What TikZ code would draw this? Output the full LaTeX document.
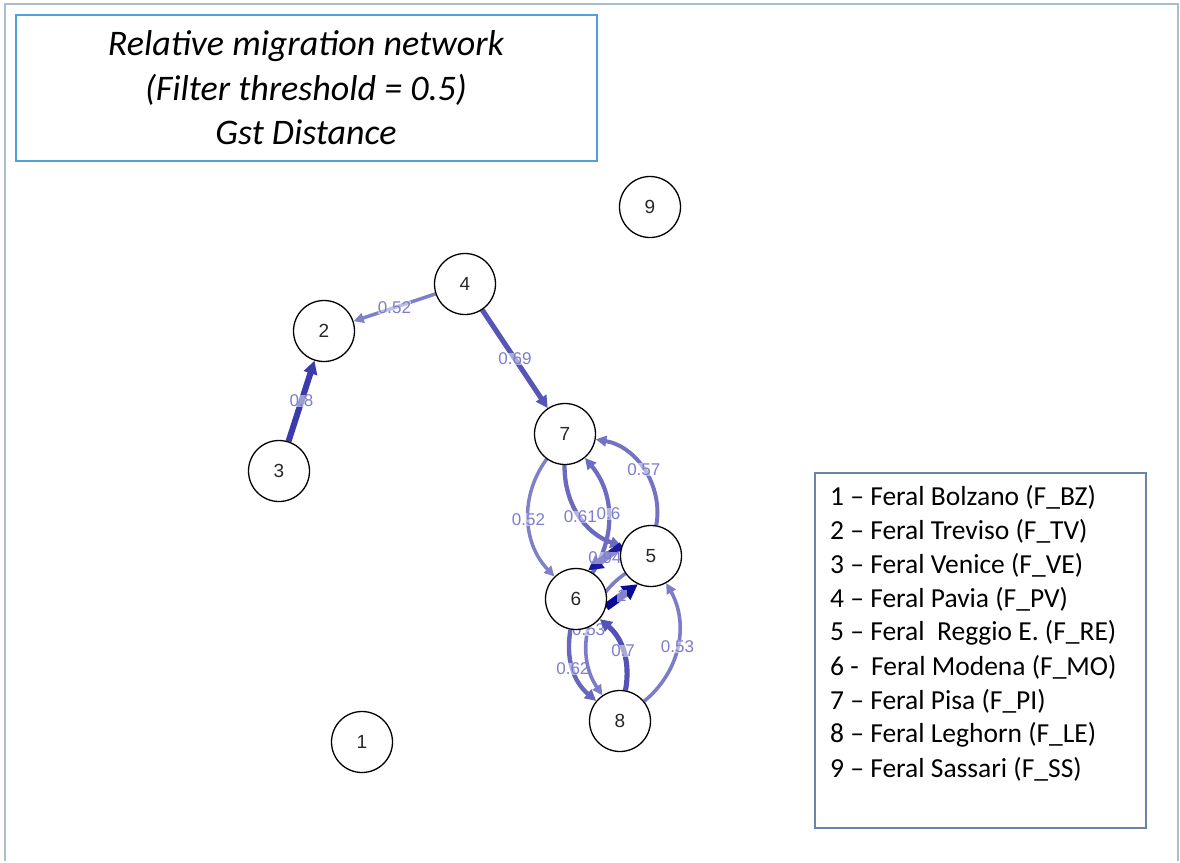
\documentclass[tikz,border=0pt]{standalone}
\usepackage{fontspec}
\setmainfont{Carlito}
\newfontfamily\arialfont{Liberation Sans}
\usetikzlibrary{arrows.meta,backgrounds}
\definecolor{edgeblue}{RGB}{10,10,150}
\definecolor{framegray}{RGB}{170,190,206}
\definecolor{titleblue}{RGB}{78,162,212}
\definecolor{legendblue}{RGB}{108,132,168}
\definecolor{labelblue}{RGB}{125,125,205}
\definecolor{numgray}{RGB}{40,40,40}

\begin{document}
\begin{tikzpicture}[x=1pt,y=1pt,
  pop/.style={circle, draw=black, line width=1.3pt, minimum size=61pt,
    inner sep=0pt, fill=white, text=numgray,
    font=\arialfont\fontsize{19}{19}\selectfont},
  mig/.style={draw=edgeblue!#1!white, line width={0.09pt*#1-1.2pt},
    -{Triangle[length=6pt 1.2, width=5pt 1.4]}},
  wt/.style={pos=0.5, text=labelblue, fill=white, fill opacity=0.5,
    text opacity=1, inner sep=0.3pt,
    font=\arialfont\fontsize{17}{17}\selectfont},
  titleline/.style={font=\fontsize{36}{36}\selectfont\itshape, text=black},
  legline/.style={anchor=west, font=\fontsize{27.5}{27.5}\selectfont, text=black,
    inner sep=0pt}
]
% canvas
\begin{scope}[on background layer]
\fill[white] (0,0) rectangle (1180,-861);
\end{scope}
\draw[framegray, line width=2pt] (4.5,-861) -- (4.5,-4) -- (1178,-4) -- (1178,-861);

% title box
\draw[titleblue, line width=1.5pt] (16,-15) rectangle (597,-161);
\node[titleline] (t1) at (306,-46) {Relative migration network};
\node[titleline] (t2) at (306,-90) {(Filter threshold = 0.5)};
\node[titleline] (t3) at (306,-132) {Gst Distance};

% legend box
\draw[legendblue, line width=1.5pt] (815,-473) rectangle (1146,-828);
\node[legline] (l1) at (830,-497) {1 – Feral Bolzano (F\_BZ)};
\node[legline] (l2) at (830,-531) {2 – Feral Treviso (F\_TV)};
\node[legline] (l3) at (830,-565) {3 – Feral Venice (F\_VE)};
\node[legline] (l4) at (830,-599) {4 – Feral Pavia (F\_PV)};
\node[legline] (l5) at (830,-633) {5 – Feral\ \ Reggio E. (F\_RE)};
\node[legline] (l6) at (830,-667) {6 -\ \ Feral Modena (F\_MO)};
\node[legline] (l7) at (830,-701) {7 – Feral Pisa (F\_PI)};
\node[legline] (l8) at (830,-735) {8 – Feral Leghorn (F\_LE)};
\node[legline] (l9) at (830,-769) {9 – Feral Sassari (F\_SS)};

% populations
\node[pop] (n1) at (362,-742) {1};
\node[pop] (n2) at (324,-331) {2};
\node[pop] (n3) at (279,-471) {3};
\node[pop] (n4) at (465,-284) {4};
\node[pop] (n5) at (651,-556) {5};
\node[pop] (n6) at (576,-599) {6};
\node[pop] (n7) at (565,-434) {7};
\node[pop] (n8) at (620,-721) {8};
\node[pop] (n9) at (650,-207) {9};

% migration edges
\begin{scope}[on background layer]
\draw[mig=52] (n4) -- (n2) node[wt] {0.52};
\draw[mig=80] (n3) -- (n2) node[wt] {0.8};
\draw[mig=69] (n4) -- (n7) node[wt] {0.69};
\draw[mig=52] (n7) to[bend right=40] node[wt] {0.52} (n6);
\draw[mig=61] (n7) to[bend right=36] node[wt, pos=0.52] {0.61} (n5);
\draw[mig=60] (n6) to[bend right=36] node[wt] {0.6} (n7);
\draw[mig=57] (n5) to[bend right=45] node[wt] {0.57} (n7);
\draw[mig=94] (n5.160) -- (n6.67) node[wt] {0.94};
\draw[mig=100] (n6.-15) -- (n5.245) node[wt] {1};
\draw[mig=62] (n6) to[bend right=30] node[wt] {0.62} (n8);
\draw[mig=53] (n5) to[bend right=45] node[wt] {0.53} (n8);
\draw[mig=70] (n8) to[bend right=30] node[wt] {0.7} (n6);
\draw[mig=53] (n8) to[bend right=40] node[wt] {0.53} (n5);
\end{scope}
\end{tikzpicture}
\end{document}
